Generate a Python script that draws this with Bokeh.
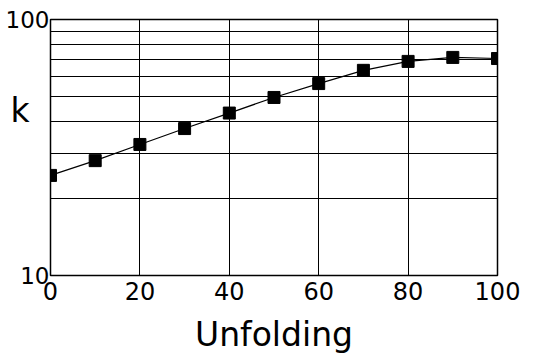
from bokeh.plotting import figure
from bokeh.models import FixedTicker, PrintfTickFormatter
from bokeh.embed import file_html
from bokeh.resources import INLINE

unfolding = [0, 10, 20, 30, 40, 50, 60, 70, 80, 90, 100]
k_values = [24.6, 28.1, 32.5, 37.5, 43.1, 49.6, 56.2, 63.3, 68.6, 71.1, 70.4]
x_ticks = [0, 20, 40, 60, 80, 100]
y_ticks = [10, 100]
y_minor = [20, 30, 40, 50, 60, 70, 80, 90]

FONT = "DejaVu Sans"

p = figure(width=544, height=356, y_axis_type="log",
           x_range=(0, 100), y_range=(10, 100),
           output_backend="svg", toolbar_location=None,
           min_border_left=50, min_border_right=47,
           min_border_top=19, min_border_bottom=81)
p.background_fill_color = "white"
p.border_fill_color = "white"
p.outline_line_color = "black"
p.outline_line_width = 1.5

p.xaxis.ticker = FixedTicker(ticks=x_ticks)
p.yaxis.ticker = FixedTicker(ticks=y_ticks, minor_ticks=y_minor)
p.yaxis.formatter = PrintfTickFormatter(format="%d")
for ax in (p.xaxis, p.yaxis):
    ax.axis_line_color = None
    ax.major_tick_line_color = None
    ax.minor_tick_line_color = None
    ax.major_tick_out = 0
    ax.major_tick_in = 0
    ax.minor_tick_out = 0
    ax.minor_tick_in = 0
    ax.major_label_text_font = FONT
    ax.major_label_text_font_size = "24px"
    ax.major_label_text_color = "black"
p.yaxis.major_label_text_font_size = "23px"
p.xaxis.major_label_standoff = 6
p.yaxis.major_label_standoff = 1
p.xaxis.axis_label = "Unfolding"
p.xaxis.axis_label_text_font = FONT
p.xaxis.axis_label_text_font_size = "33px"
p.xaxis.axis_label_text_font_style = "normal"
p.xaxis.axis_label_text_color = "black"
p.xaxis.axis_label_standoff = 12

p.yaxis.axis_label = "k\n \n "
p.yaxis.axis_label_orientation = "horizontal"
p.yaxis.axis_label_text_font = FONT
p.yaxis.axis_label_text_font_size = "33px"
p.yaxis.axis_label_text_font_style = "normal"
p.yaxis.axis_label_text_color = "black"
p.yaxis.axis_label_text_line_height = 0.96
p.yaxis.axis_label_standoff = -27

p.xgrid.grid_line_color = "black"
p.xgrid.grid_line_width = 1
p.ygrid.grid_line_color = "black"
p.ygrid.minor_grid_line_color = "black"
p.ygrid.minor_grid_line_width = 1

p.line(unfolding, k_values, line_color="black", line_width=1.2)
p.scatter(unfolding, k_values, marker="square", size=12,
          fill_color="black", line_color="black")

open("out.html", "w").write(file_html(p, INLINE))
